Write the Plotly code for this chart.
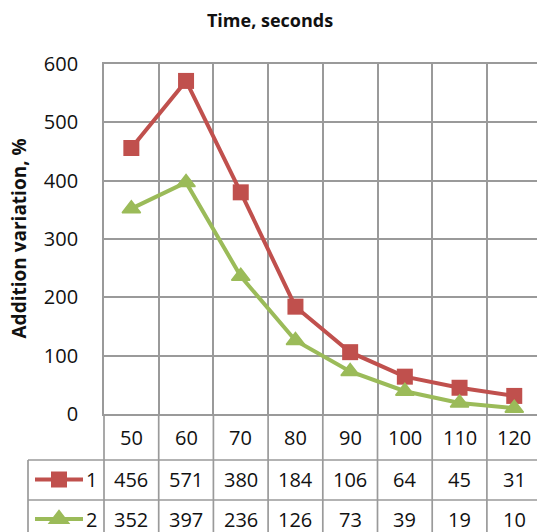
import plotly.graph_objects as go

# ---- data ----
times = ["50", "60", "70", "80", "90", "100", "110", "120"]
series_names = ["1", "2"]
series1 = [456, 571, 380, 184, 106, 64, 45, 31]
series2 = [352, 397, 236, 126, 73, 39, 19, 10]
y_ticks = [0, 100, 200, 300, 400, 500, 600]
x_title = "Time, seconds"
y_title = "Addition variation, %"

# ---- layout geometry (pixels) ----
W, H = 537, 532
PL, PT, PB = 104, 64, 414          # plot left/top/bottom
COL = 54.7                          # column width
ROW_HDR, ROW1 = 460, 500            # bottoms of table rows
TBL_L = 28
RED = "#C0504D"
GREEN = "#9BBB59"
GRID = "#9a9a9a"
GW = 1.7
LW = 4
FONT = "Open Sans"
TXT = "#111111"


def px(x):
    return x / W


def py(y):
    return 1 - y / H


x_hi = -0.5 + (W - PL) / COL
idx = list(range(len(times)))

fig = go.Figure()
fig.add_trace(go.Scatter(x=idx, y=series1, name=series_names[0], mode="lines+markers",
                         line=dict(color=RED, width=LW),
                         marker=dict(symbol="square", size=16, color=RED), cliponaxis=False))
fig.add_trace(go.Scatter(x=idx, y=series2, name=series_names[1], mode="lines+markers",
                         line=dict(color=GREEN, width=LW),
                         marker=dict(symbol="triangle-up", size=16, color=GREEN,
                                     line=dict(color=GREEN, width=1.5)), cliponaxis=False))

shapes = []
# vertical lines under the plot (header row + data rows)
for k in range(len(times)):
    xp = PL + k * COL
    shapes.append(dict(type="line", xref="paper", yref="paper", x0=px(xp), x1=px(xp),
                       y0=py(PB), y1=py(H + 5), line=dict(color=GRID, width=GW)))
# table horizontal lines and left border
for yy in (ROW_HDR, ROW1):
    shapes.append(dict(type="line", xref="paper", yref="paper", x0=px(TBL_L), x1=px(W + 5),
                       y0=py(yy), y1=py(yy), line=dict(color=GRID, width=GW)))
shapes.append(dict(type="line", xref="paper", yref="paper", x0=px(TBL_L), x1=px(TBL_L),
                   y0=py(ROW_HDR), y1=py(H + 5), line=dict(color=GRID, width=GW)))

# legend glyphs in the table
row_centers = [479.5, 519]
for rc, col, sym in zip(row_centers, [RED, GREEN], ["square", "tri"]):
    shapes.append(dict(type="line", xref="paper", yref="paper", x0=px(35), x1=px(83),
                       y0=py(rc), y1=py(rc), line=dict(color=col, width=LW)))
    if sym == "square":
        s = 8
        shapes.append(dict(type="rect", xref="paper", yref="paper", x0=px(59 - s), x1=px(59 + s),
                           y0=py(rc - s), y1=py(rc + s), fillcolor=col, line=dict(width=0)))
    else:
        r = 8.5
        rt = r * 2 / 3 ** 0.5
        path = "M {} {} L {} {} L {} {} Z".format(px(59 - rt), py(rc + r / 2), px(59 + rt), py(rc + r / 2),
                                               px(59), py(rc - r))
        shapes.append(dict(type="path", xref="paper", yref="paper", path=path, fillcolor=col,
                           line=dict(color=col, width=1.5)))

annotations = []
fnt = dict(family=FONT, size=20, color=TXT)
for i, t in enumerate(times):
    annotations.append(dict(x=i, xref="x", y=py(437.5), yref="paper", text=t, showarrow=False,
                            font=fnt, xanchor="center", yanchor="middle"))
for vals, rc, nm in zip([series1, series2], row_centers, series_names):
    for i, v in enumerate(vals):
        annotations.append(dict(x=i, xref="x", y=py(rc), yref="paper", text=str(v), showarrow=False,
                                font=fnt, xanchor="center", yanchor="middle"))
    annotations.append(dict(x=px(91), xref="paper", y=py(rc), yref="paper", text=nm, showarrow=False,
                            font=fnt, xanchor="center", yanchor="middle"))
annotations.append(dict(x=px(18.5), xref="paper", y=py((PT + PB) / 2), yref="paper", text="<b>" + y_title + "</b>",
                        textangle=-90, showarrow=False, font=dict(family=FONT, size=19, color=TXT),
                        xanchor="center", yanchor="middle"))

fig.update_layout(
    width=W, height=H,
    autosize=False,
    margin=dict(l=0, r=0, t=0, b=0, pad=0, autoexpand=False),
    paper_bgcolor="white", plot_bgcolor="white",
    showlegend=False,
    title=dict(text="<b>" + x_title + "</b>", x=270 / W, xref="container", xanchor="center",
               y=1 - 21 / H, yref="container", yanchor="middle", automargin=False,
               font=dict(family=FONT, size=18, color=TXT)),
    xaxis=dict(domain=[px(PL), 1], range=[-0.5, x_hi], tickvals=[i + 0.5 for i in idx],
               showticklabels=False, ticks="", showgrid=True, gridcolor=GRID, gridwidth=GW,
               showline=True, linecolor=GRID, linewidth=GW, mirror=True, zeroline=False,
               automargin=False),
    yaxis=dict(domain=[py(PB), py(PT)], range=[0, 600], tickvals=y_ticks, showgrid=True,
               gridcolor=GRID, gridwidth=GW, showline=True, linecolor=GRID, linewidth=GW,
               zeroline=False, ticks="", ticklabelstandoff=20, tickfont=fnt, automargin=False),
    shapes=shapes,
    annotations=annotations,
)

fig.write_html(
    "out.html",
    config={"displayModeBar": False},
    post_script=("document.documentElement.style.margin='0';document.documentElement.style.padding='0';"
                 "document.body.style.margin='0';document.body.style.padding='0';"
                 "document.body.style.overflow='hidden';"),
)
